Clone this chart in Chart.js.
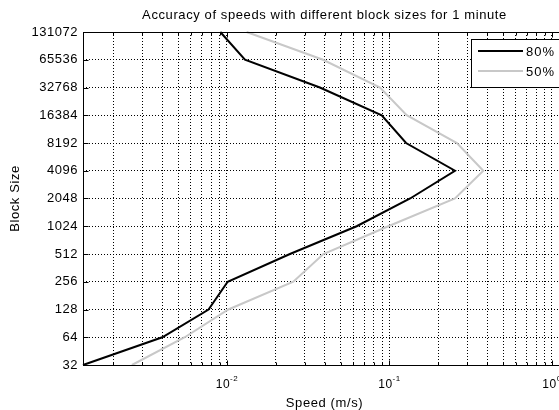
<!DOCTYPE html>
<html>
<head>
<meta charset="utf-8">
<script src="https://cdn.jsdelivr.net/npm/chart.js@4.4.0/dist/chart.umd.min.js"></script>
<style>
html, body { margin: 0; padding: 0; background: #fff; overflow: hidden; }
#wrap { width: 570px; height: 410px; }
</style>
</head>
<body>
<div id="wrap"><canvas id="myChart" width="570" height="410"></canvas></div>
<script>
// block sizes (y axis, powers of two)
const blockSizes = [32, 64, 128, 256, 512, 1024, 2048, 4096, 8192, 16384, 32768, 65536, 131072];
// speeds in m/s
const speed80 = [0.0013, 0.0040, 0.0077, 0.0101, 0.0244, 0.0628, 0.134, 0.253, 0.1265, 0.0896, 0.0373, 0.0129, 0.0091];
const speed50 = [0.0026, 0.0055, 0.0102, 0.0256, 0.0392, 0.0984, 0.253, 0.378, 0.260, 0.1276, 0.0875, 0.039, 0.0132];
const seriesNames = ['80%', '50%'];
const xMajorPowers = [-2, -1, 0];

const FONT = '"Liberation Sans", Arial, sans-serif';
const TXT = 13;

function toPoints(speeds) {
  return speeds.map((s, i) => ({x: s, y: blockSizes[i]}));
}

// tick positions for the log x axis (1..9 x 10^n)
const xTickVals = [];
for (let p = -3; p <= 0; p++) {
  for (let m = 1; m <= 9; m++) {
    const v = m * Math.pow(10, p);
    if (v >= 0.0013 && v <= 1.22) xTickVals.push(v);
  }
}

const extras = {
  id: 'extras',
  beforeDraw(chart) {
    const ctx = chart.ctx;
    ctx.save();
    ctx.fillStyle = '#fff';
    ctx.fillRect(0, 0, chart.width, chart.height);
    ctx.restore();
    // slightly wider text, like the original renderer
    ctx.letterSpacing = '0.5px';
  },
  afterDraw(chart) {
    const {ctx, chartArea: a, scales: {x, y}} = chart;
    ctx.save();
    const L = Math.round(a.left) + 0.5, T = Math.round(a.top) + 0.5;
    const R = Math.round(a.right) + 0.5, B = Math.round(a.bottom) + 0.5;

    // axes box
    ctx.strokeStyle = '#000';
    ctx.lineWidth = 1;
    ctx.strokeRect(L, T, R - L, B - T);

    // inner tick marks
    ctx.beginPath();
    x.ticks.forEach(t => {
      const px = Math.round(x.getPixelForValue(t.value)) + 0.5;
      const len = xMajorPowers.some(p => Math.abs(Math.log10(t.value) - p) < 1e-9) ? 5 : 3;
      ctx.moveTo(px, B); ctx.lineTo(px, B - len);
      ctx.moveTo(px, T); ctx.lineTo(px, T + len);
    });
    y.ticks.forEach(t => {
      const py = Math.round(y.getPixelForValue(t.value)) + 0.5;
      ctx.moveTo(L, py); ctx.lineTo(L + 5, py);
    });
    ctx.stroke();

    ctx.fillStyle = '#000';
    ctx.textBaseline = 'alphabetic';

    // x tick labels with superscript exponents
    ctx.letterSpacing = '0.5px';
    xMajorPowers.forEach(p => {
      const px = x.getPixelForValue(Math.pow(10, p));
      ctx.font = '12px ' + FONT;
      const w1 = ctx.measureText('10').width;
      ctx.font = '8px ' + FONT;
      const exp = String(p);
      const w2 = ctx.measureText(exp).width;
      const start = px - (w1 + w2) / 2;
      ctx.font = '12px ' + FONT;
      ctx.textAlign = 'left';
      ctx.fillText('10', start, 388);
      ctx.font = '8px ' + FONT;
      ctx.fillText(exp, start + w1, 381);
    });

    // axis titles
    ctx.letterSpacing = '0.6px';
    ctx.font = TXT + 'px ' + FONT;
    ctx.textAlign = 'center';
    ctx.fillText('Speed (m/s)', (a.left + a.right) / 2, 407);
    ctx.save();
    ctx.translate(19, (a.top + a.bottom) / 2);
    ctx.rotate(-Math.PI / 2);
    ctx.fillText('Block Size', 0, 0);
    ctx.restore();

    // title
    ctx.font = '13px ' + FONT;
    ctx.fillText('Accuracy of speeds with different block sizes for 1 minute', (a.left + a.right) / 2, 19);

    // legend box in the top right corner
    const ds = chart.data.datasets;
    const bx = 471.5, by = 39.5, bw = 92, bh = 48;
    ctx.fillStyle = '#fff';
    ctx.fillRect(bx, by, bw, bh);
    ctx.strokeStyle = '#000';
    ctx.strokeRect(bx, by, bw, bh);
    ds.forEach((d, i) => {
      const ly = 51 + i * 20;
      ctx.strokeStyle = d.borderColor;
      ctx.lineWidth = d.borderWidth;
      ctx.beginPath();
      ctx.moveTo(478, ly); ctx.lineTo(523, ly);
      ctx.stroke();
      ctx.fillStyle = '#000';
      ctx.font = TXT + 'px ' + FONT;
      ctx.letterSpacing = '1px';
      ctx.textAlign = 'left';
      ctx.textBaseline = 'middle';
      ctx.fillText(d.label, 526, ly + 1);
    });
    ctx.restore();
  }
};

const ctx = document.getElementById('myChart').getContext('2d');
const chart = new Chart(ctx, {
  type: 'scatter',
  data: {
    datasets: [
      {label: seriesNames[0], data: toPoints(speed80), borderColor: '#000000', borderWidth: 2},
      {label: seriesNames[1], data: toPoints(speed50), borderColor: '#c8c8c8', borderWidth: 2}
    ]
  },
  options: {
    responsive: false,
    animation: false,
    devicePixelRatio: 1,
    showLine: true,
    clip: false,
    elements: {
      point: {radius: 0},
      line: {tension: 0, borderJoinStyle: 'miter'}
    },
    layout: {padding: {top: 32, right: 4, left: 0, bottom: 0}},
    plugins: {
      legend: {display: false},
      title: {display: false},
      tooltip: {enabled: false}
    },
    scales: {
      x: {
        type: 'logarithmic',
        min: 0.0013,
        max: 1.22,
        afterBuildTicks: s => { s.ticks = xTickVals.map(v => ({value: v})); },
        afterFit: s => { s.height = 45; },
        ticks: {display: false},
        grid: {color: '#000', lineWidth: 1, drawTicks: false},
        border: {display: false, dash: [1, 2]}
      },
      y: {
        type: 'logarithmic',
        min: 32,
        max: 131072,
        afterBuildTicks: s => { s.ticks = blockSizes.map(v => ({value: v})); },
        afterFit: s => { s.width = 83; },
        ticks: {
          color: '#000',
          padding: 5,
          font: {family: FONT, size: TXT},
          callback: v => String(v)
        },
        grid: {color: '#000', lineWidth: 1, drawTicks: false},
        border: {display: false, dash: [1, 2]}
      }
    }
  },
  plugins: [extras]
});
</script>
</body>
</html>
